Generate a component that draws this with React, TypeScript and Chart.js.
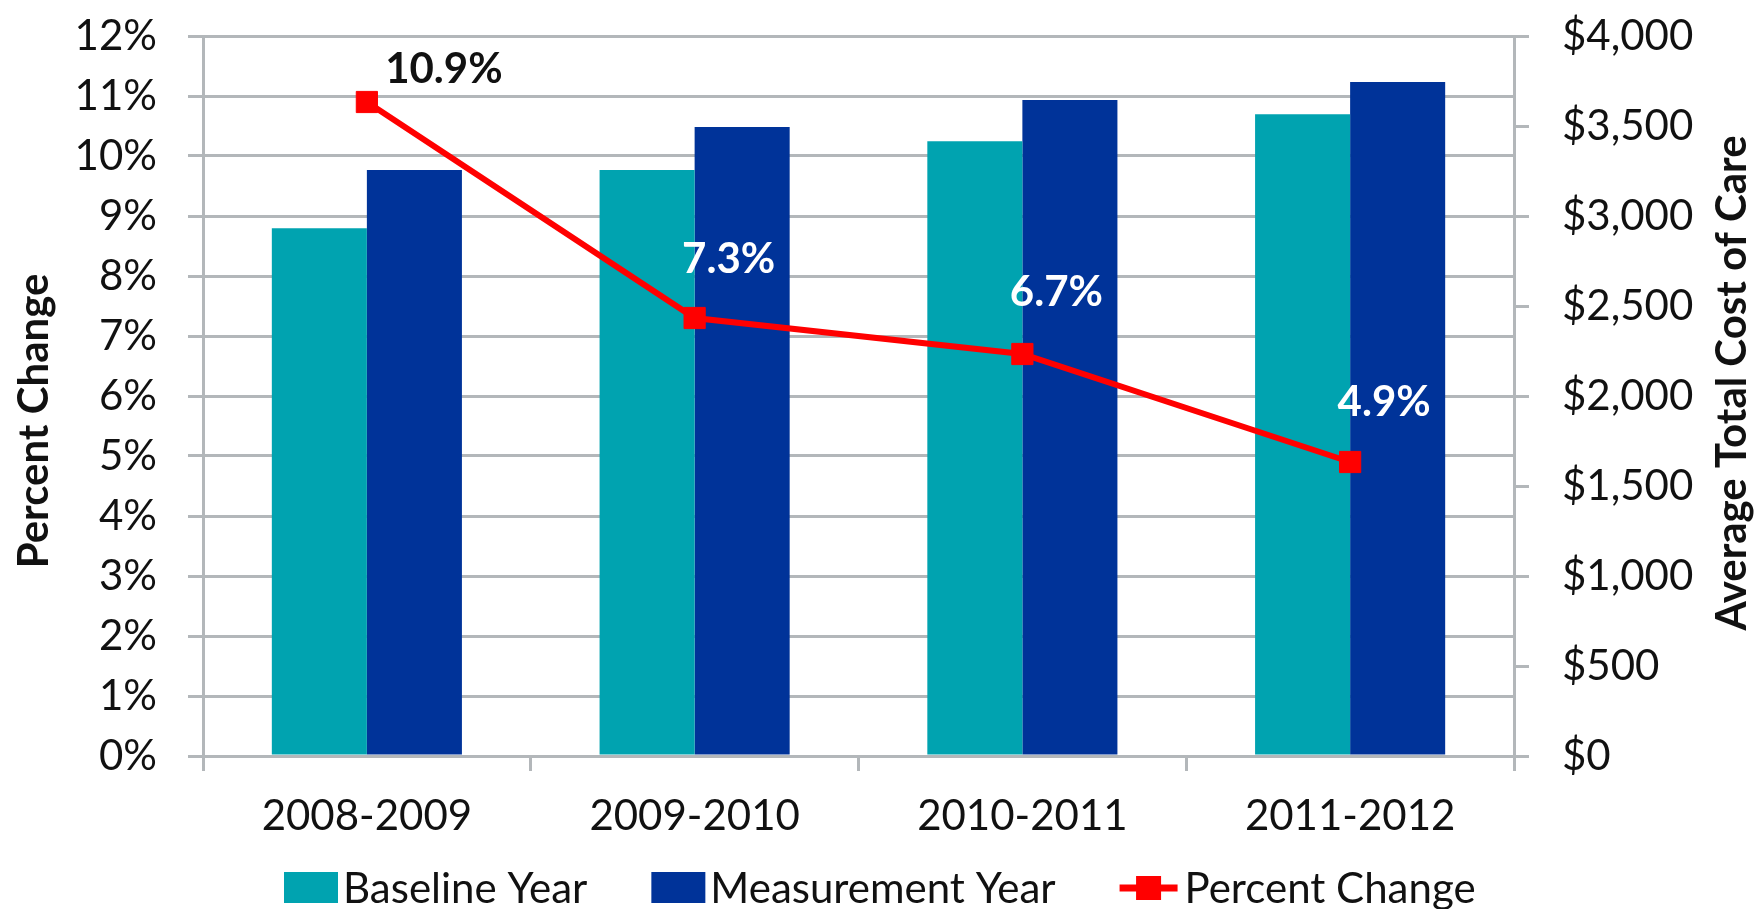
import React, { useEffect, useRef } from 'react';
import { Chart, registerables } from 'chart.js';

Chart.register(...registerables);

// ---- data ----
const categories = ['2008-2009', '2009-2010', '2010-2011', '2011-2012'];
const seriesNames = ['Baseline Year', 'Measurement Year', 'Percent Change'];
const baselineYear = [2932, 3255, 3415, 3565];
const measurementYear = [3255, 3495, 3645, 3745];
const percentChange = [10.9, 7.3, 6.7, 4.9];
const percentTickLabels = ['0%', '1%', '2%', '3%', '4%', '5%', '6%', '7%', '8%', '9%', '10%', '11%', '12%'];
const costTickLabels = ['$0', '$500', '$1,000', '$1,500', '$2,000', '$2,500', '$3,000', '$3,500', '$4,000'];
const leftTitle = 'Percent Change';
const rightTitle = 'Average Total Cost of Care';

// ---- style ----
const W = 1756;
const H = 909;
const FONT = 'Lato, "Open Sans", sans-serif';
const GRID = '#b3b7ba';
const TEAL = '#00a3b0';
const NAVY = '#003399';
const RED = '#ff0000';
const TEXT = '#111111';
const LABEL_OFFSETS: [number, number][] = [[77, -33], [34, -59], [34, -62], [34, -60]];
const LABEL_COLORS = ['#111111', '#ffffff', '#ffffff', '#ffffff'];

export default function App() {
  const ref = useRef<HTMLCanvasElement>(null);

  useEffect(() => {
    const canvas = ref.current;
    if (!canvas) return;

    const decorPlugin = {
      id: 'decor',
      afterDatasetsDraw(chart: any) {
        const meta = chart.getDatasetMeta(2);
        const ctx = chart.ctx as CanvasRenderingContext2D;
        ctx.save();
        ctx.font = `bold 42px ${FONT}`;
        ctx.textAlign = 'center';
        ctx.textBaseline = 'middle';
        meta.data.forEach((pt: any, i: number) => {
          const [dx, dy] = LABEL_OFFSETS[i];
          ctx.fillStyle = LABEL_COLORS[i];
          ctx.fillText(percentChange[i].toFixed(1) + '%', pt.x + dx, pt.y + dy);
        });
        ctx.restore();
      },
      afterDraw(chart: any) {
        const ctx = chart.ctx as CanvasRenderingContext2D;
        ctx.save();
        // axis titles
        ctx.font = `bold 42px ${FONT}`;
        ctx.fillStyle = TEXT;
        ctx.textAlign = 'center';
        ctx.textBaseline = 'middle';
        ctx.save();
        ctx.translate(34, 421);
        ctx.rotate(-Math.PI / 2);
        ctx.fillText(leftTitle, 0, 0);
        ctx.restore();
        ctx.save();
        ctx.translate(1732, 383);
        ctx.rotate(-Math.PI / 2);
        ctx.fillText(rightTitle, 0, 0);
        ctx.restore();

        // legend
        ctx.font = `42px ${FONT}`;
        ctx.textAlign = 'left';
        ctx.textBaseline = 'alphabetic';
        const baseY = 903;
        let x = 284;
        const boxColors = [TEAL, NAVY];
        for (let i = 0; i < 2; i++) {
          ctx.fillStyle = boxColors[i];
          ctx.fillRect(x, 872, 54, 31);
          x += 54 + 5;
          ctx.fillStyle = TEXT;
          ctx.fillText(seriesNames[i], x, baseY);
          x += ctx.measureText(seriesNames[i]).width + 64;
        }
        ctx.strokeStyle = RED;
        ctx.lineWidth = 7;
        ctx.beginPath();
        ctx.moveTo(x, 888);
        ctx.lineTo(x + 58, 888);
        ctx.stroke();
        ctx.fillStyle = RED;
        ctx.fillRect(x + 29 - 12.5, 876, 25, 24);
        x += 58 + 7;
        ctx.fillStyle = TEXT;
        ctx.fillText(seriesNames[2], x, baseY);
        ctx.restore();
      },
    };

    const tickFont = { family: FONT, size: 42 };

    const chart = new Chart(canvas, {
      type: 'bar',
      data: {
        labels: categories,
        datasets: [
          {
            type: 'bar',
            label: seriesNames[0],
            data: baselineYear,
            backgroundColor: TEAL,
            borderWidth: 0,
            yAxisID: 'y1',
            categoryPercentage: 0.58,
            barPercentage: 1,
            order: 1,
          },
          {
            type: 'bar',
            label: seriesNames[1],
            data: measurementYear,
            backgroundColor: NAVY,
            borderWidth: 0,
            yAxisID: 'y1',
            categoryPercentage: 0.58,
            barPercentage: 1,
            order: 1,
          },
          {
            type: 'line',
            label: seriesNames[2],
            data: percentChange,
            borderColor: RED,
            backgroundColor: RED,
            borderWidth: 6,
            pointStyle: 'rect',
            pointRadius: 15,
            pointBackgroundColor: RED,
            pointBorderColor: RED,
            pointBorderWidth: 1,
            yAxisID: 'y',
            order: 0,
            tension: 0,
          } as any,
        ],
      },
      options: {
        responsive: false,
        animation: false,
        devicePixelRatio: 1,
        layout: { padding: { top: 36, left: 0, right: 0, bottom: 0 } },
        plugins: {
          legend: { display: false },
          tooltip: { enabled: false },
        },
        scales: {
          x: {
            offset: true,
            grid: {
              display: true,
              drawOnChartArea: false,
              drawTicks: true,
              tickLength: 15,
              color: GRID,
              lineWidth: 3,
              offset: true,
            },
            border: { display: true, color: GRID, width: 3 },
            ticks: { font: tickFont, color: TEXT, padding: 20, maxRotation: 0, autoSkip: false },
            afterFit: (s: any) => {
              s.height = 153;
              s.paddingLeft = 0;
              s.paddingRight = 0;
            },
          },
          y: {
            position: 'left',
            min: 0,
            max: 12,
            ticks: {
              stepSize: 1,
              font: tickFont,
              color: TEXT,
              padding: 31,
              callback: (_v: any, i: number) => percentTickLabels[i],
            },
            grid: { color: GRID, lineWidth: 3, tickLength: 15 },
            border: { display: true, color: GRID, width: 3 },
            afterFit: (s: any) => {
              s.width = 203;
              s.paddingTop = 0;
              s.paddingBottom = 0;
            },
          },
          y1: {
            position: 'right',
            min: 0,
            max: 4000,
            ticks: {
              stepSize: 500,
              font: tickFont,
              color: TEXT,
              padding: 33,
              callback: (_v: any, i: number) => costTickLabels[i],
            },
            grid: { drawOnChartArea: false, color: GRID, lineWidth: 3, tickLength: 15 },
            border: { display: true, color: GRID, width: 3 },
            afterFit: (s: any) => {
              s.width = W - 1514;
              s.paddingTop = 0;
              s.paddingBottom = 0;
            },
          },
        },
      } as any,
      plugins: [decorPlugin],
    });

    return () => chart.destroy();
  }, []);

  return (
    <div style={{ position: 'fixed', left: 0, top: 0, width: W, height: H, background: '#ffffff' }}>
      <canvas ref={ref} width={W} height={H} style={{ display: 'block', width: W, height: H }} />
    </div>
  );
}
